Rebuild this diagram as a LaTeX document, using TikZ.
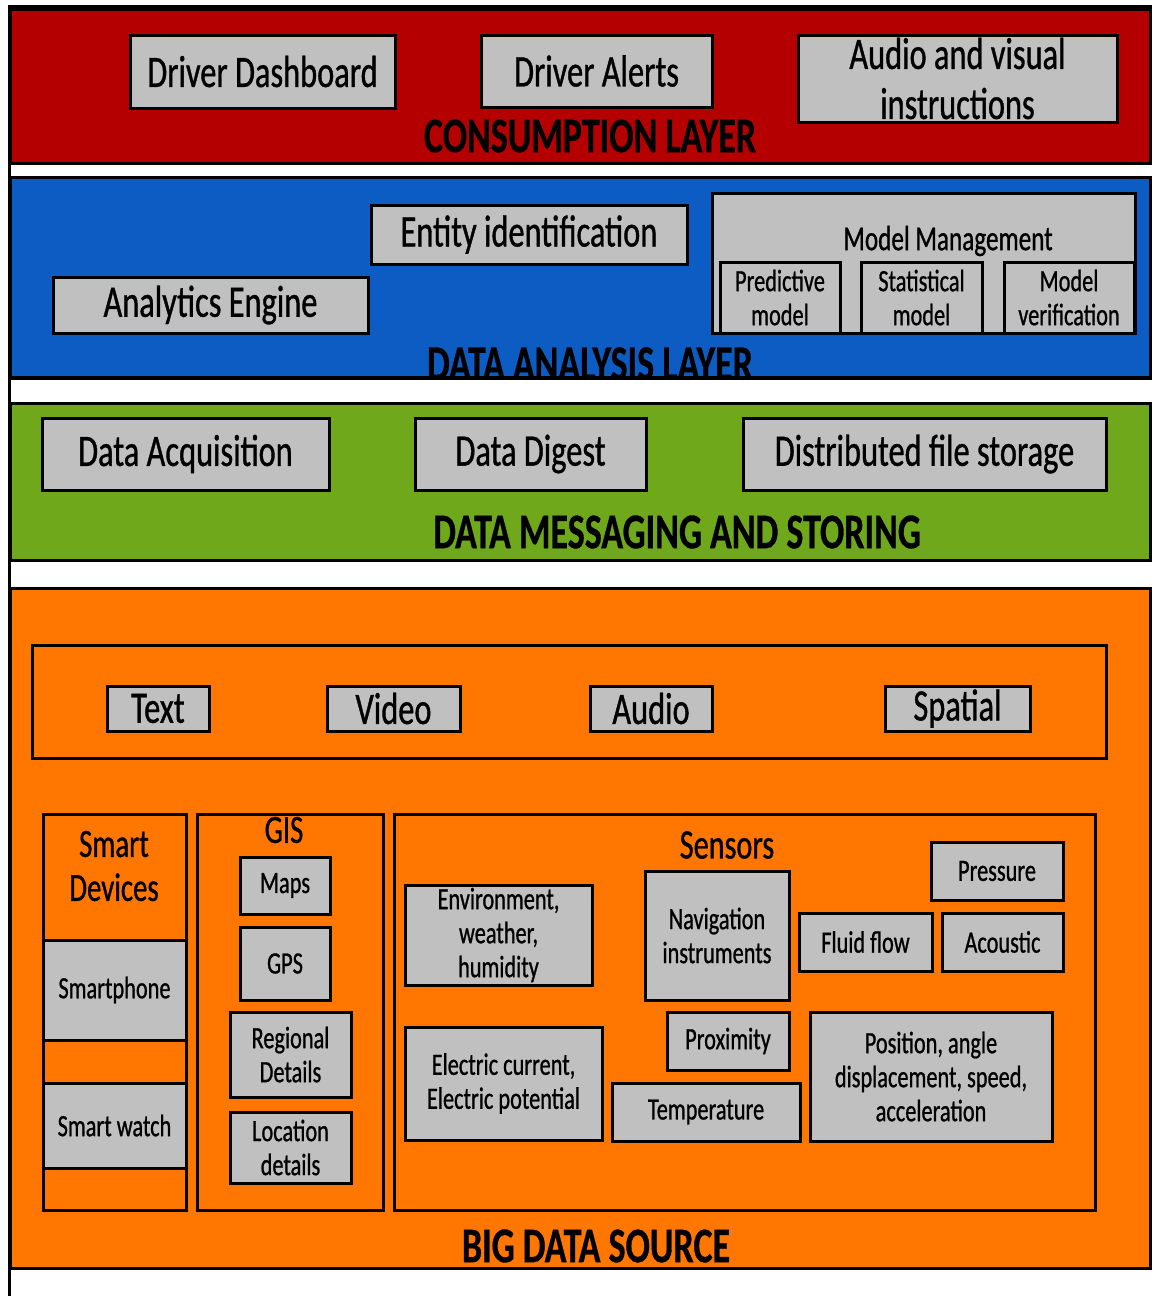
\documentclass[tikz,border=0pt]{standalone}
\usepackage{fontspec}
\setmainfont{Carlito}[FakeStretch=0.72,
  UprightFeatures={FakeBold=0.8},
  BoldFeatures={FakeBold=0.6}]

% text sizes (1pt = one unit of the drawing grid)
\newcommand\szL{\fontsize{45}{50}\selectfont}
\newcommand\szM{\fontsize{40}{44}\selectfont}
\newcommand\szMM{\fontsize{35}{40}\selectfont}
\newcommand\szS{\fontsize{31}{34}\selectfont}
\newcommand\szT{\fontsize{50}{56}\selectfont\bfseries}

\definecolor{layerred}{RGB}{180,0,0}
\definecolor{layerblue}{RGB}{12,92,196}
\definecolor{layergreen}{RGB}{112,168,28}
\definecolor{layerorange}{RGB}{255,118,0}
\definecolor{boxgray}{RGB}{192,192,192}

\tikzset{
  % rectangle given by its corners x1,y1,x2,y2
  span/.style n args={4}{minimum width={#3-#1}, minimum height={#4-#2},
    at={({(#1+#3)/2},{(#2+#4)/2})}},
  layer/.style={draw=black, line width=3pt, inner sep=0pt, rectangle},
  group/.style={draw=black, line width=3pt, inner sep=0pt, fill=layerorange},
  gbox/.style={draw=black, line width=3pt, fill=boxgray, inner sep=0pt,
    align=center, font=\szL},
  sbox/.style={gbox, font=\szS},
  title/.style={inner sep=0pt, font=\szT},
  label/.style={inner sep=0pt, align=center}
}

\begin{document}
\begin{tikzpicture}[x=1pt, y=-1pt]
\useasboundingbox (0,0) rectangle (1152,1296);

% page frame
\draw[line width=3pt] (9,1296) -- (9,6) -- (1152,6);

% ---------------- consumption layer ----------------
\node[layer, fill=layerred, span={10}{9}{1150}{163}] (consumption) {};
\node[gbox, span={130}{35}{395}{108}] (dash) {Driver Dashboard};
\node[gbox, span={481}{35}{712}{107}] (alerts) {Driver Alerts};
\node[gbox, span={798}{35}{1117}{122}] (avi) {Audio and visual\\instructions};
\node[title] (ctitle) at (590,136) {CONSUMPTION LAYER};

% ---------------- data analysis layer ----------------
\node[layer, fill=layerblue, span={10}{177}{1150}{377}] (analysis) {};
\node[gbox, span={371}{205}{687}{264}] (entity) {Entity identification};
\node[gbox, span={53}{277}{368}{333}] (engine) {Analytics Engine};
\node[gbox, span={712}{193}{1135}{333}] (mm) {};
\node[label, font=\szMM] (mmlabel) at (948,241) {Model Management};
\node[sbox, span={720}{262}{840}{333}] (pred) {Predictive\\model};
\node[sbox, span={861}{262}{982}{333}] (stat) {Statistical\\model};
\node[sbox, span={1004}{262}{1134}{333}] (verif) {Model\\verification};
\begin{scope}
  \clip (analysis.south west) rectangle (analysis.north east);
  \node[title, anchor=base] (atitle) at (590,380) {DATA ANALYSIS LAYER};
\end{scope}
\draw[line width=3pt] (analysis.south west) -- (analysis.south east);

% ---------------- data messaging and storing ----------------
\node[layer, fill=layergreen, span={10}{403}{1150}{560}] (messaging) {};
\node[gbox, span={42}{418}{329}{490}] (acq) {Data Acquisition};
\node[gbox, span={415}{418}{646}{490}] (digest) {Data Digest};
\node[gbox, span={743}{418}{1106}{490}] (dfs) {Distributed file storage};
\node[title] (mtitle) at (677,532) {DATA MESSAGING AND STORING};

% ---------------- big data source ----------------
\node[layer, fill=layerorange, span={10}{588}{1150}{1268}] (source) {};
\node[title] (stitle) at (596,1246) {BIG DATA SOURCE};

% media types
\node[group, span={32}{645}{1106}{758}] (media) {};
\node[gbox, span={107}{686}{209}{731}] (txt) {Text};
\node[gbox, span={327}{686}{460}{731}] (vid) {Video};
\node[gbox, span={590}{686}{712}{731}] (aud) {Audio};
\node[gbox, span={885}{686}{1030}{731}] (spa) {Spatial};

% smart devices
\node[group, span={43}{814}{186}{1210}] (smart) {};
\node[group, span={43}{814}{186}{940}] (smarthead) {};
\node[label, font=\szM] (smartlabel) at (114,866) {Smart\\Devices};
\node[sbox, span={43}{940}{186}{1040}] (phone) {Smartphone};
\node[sbox, span={43}{1083}{186}{1168}] (watch) {Smart watch};

% GIS
\node[group, span={197}{814}{383}{1210}] (gis) {};
\node[label, font=\szM] (gislabel) at (284,830) {GIS};
\node[sbox, span={240}{857}{330}{914}] (maps) {Maps};
\node[sbox, span={240}{927}{330}{1000}] (gps) {GPS};
\node[sbox, span={230}{1012}{351}{1097}] (regional) {Regional\\Details};
\node[sbox, span={230}{1112}{351}{1183}] (location) {Location\\details};

% sensors
\node[group, span={394}{814}{1095}{1210}] (sensors) {};
\node[label, font=\fontsize{42}{46}\selectfont] (senslabel) at (727,845) {Sensors};
\node[sbox, span={405}{885}{592}{985}] (env) {Environment,\\weather,\\humidity};
\node[sbox, span={405}{1027}{602}{1140}] (elec) {Electric current,\\Electric potential};
\node[sbox, span={645}{871}{789}{1000}] (nav) {Navigation\\instruments};
\node[sbox, span={931}{842}{1063}{900}] (press) {Pressure};
\node[sbox, span={799}{913}{932}{971}] (fluid) {Fluid flow};
\node[sbox, span={942}{913}{1063}{971}] (acou) {Acoustic};
\node[sbox, span={667}{1012}{789}{1070}] (prox) {Proximity};
\node[sbox, span={612}{1083}{800}{1141}] (temp) {Temperature};
\node[sbox, span={810}{1012}{1052}{1141}] (pos) {Position, angle\\displacement, speed,\\acceleration};
\end{tikzpicture}
\end{document}
